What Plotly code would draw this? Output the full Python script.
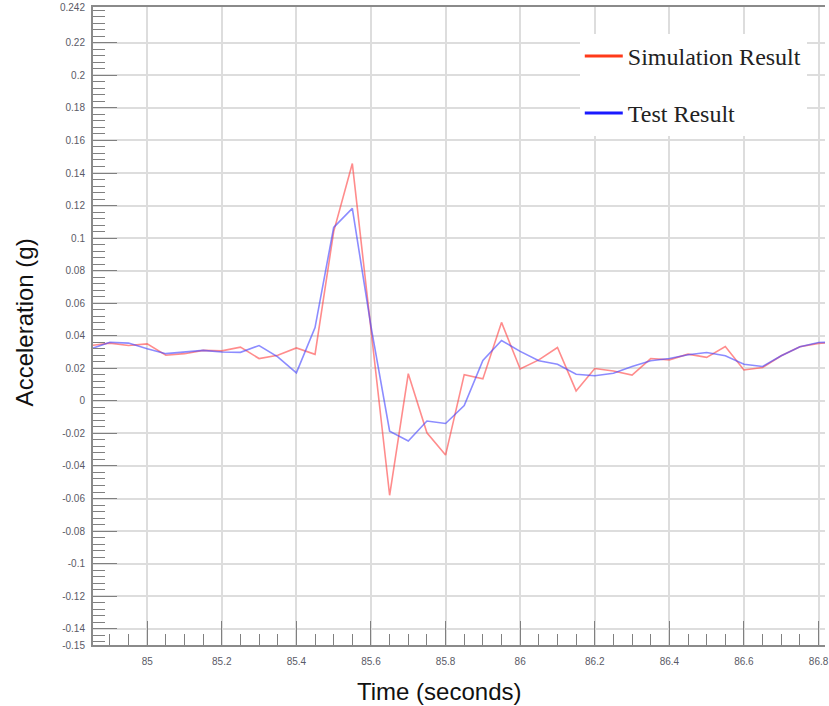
import plotly.graph_objects as go

time_s = [84.85, 84.90, 84.95, 85.00, 85.05, 85.10, 85.15, 85.20, 85.25, 85.30,
          85.35, 85.40, 85.45, 85.50, 85.55, 85.60, 85.65, 85.70, 85.75, 85.80,
          85.85, 85.90, 85.95, 86.00, 86.05, 86.10, 86.15, 86.20, 86.25, 86.30,
          86.35, 86.40, 86.45, 86.50, 86.55, 86.60, 86.65, 86.70, 86.75, 86.80, 86.85]

simulation = [0.034, 0.0355, 0.034, 0.035, 0.028, 0.029, 0.031, 0.0307, 0.033, 0.026,
              0.028, 0.0325, 0.0286, 0.104, 0.1458, 0.0457, -0.058, 0.0167, -0.0196, -0.0333,
              0.0161, 0.0135, 0.0482, 0.0196, 0.0252, 0.0328, 0.0061, 0.0199, 0.0184, 0.0158,
              0.026, 0.0252, 0.0287, 0.0267, 0.0334, 0.019, 0.0205, 0.0277, 0.0332, 0.0353, 0.036]

test = [0.032, 0.036, 0.0355, 0.032, 0.029, 0.030, 0.031, 0.030, 0.0298, 0.034,
        0.027, 0.0172, 0.045, 0.1066, 0.1183, 0.0457, -0.0186, -0.0247, -0.0124, -0.0139,
        -0.0029, 0.0249, 0.0371, 0.0304, 0.0246, 0.0225, 0.0164, 0.0154, 0.017, 0.0211,
        0.0246, 0.026, 0.0283, 0.0297, 0.0277, 0.0225, 0.0211, 0.0277, 0.0332, 0.0359, 0.036]

x_tickvals = [85.0, 85.2, 85.4, 85.6, 85.8, 86.0, 86.2, 86.4, 86.6, 86.8]
x_ticktext = ["85", "85.2", "85.4", "85.6", "85.8", "86", "86.2", "86.4", "86.6", "86.8"]

y_tickvals = [0.242, 0.22, 0.2, 0.18, 0.16, 0.14, 0.12, 0.1, 0.08, 0.06, 0.04, 0.02, 0,
              -0.02, -0.04, -0.06, -0.08, -0.1, -0.12, -0.14, -0.15]
y_ticktext = ["0.242", "0.22", "0.2", "0.18", "0.16", "0.14", "0.12", "0.1", "0.08", "0.06",
              "0.04", "0.02", "0", "-0.02", "-0.04", "-0.06", "-0.08", "-0.1", "-0.12",
              "-0.14", "-0.15"]

series_names = ["Simulation Result", "Test Result"]
x_title = "Time (seconds)"
y_title = "Acceleration (g)"

fig = go.Figure()
fig.add_trace(go.Scatter(x=time_s, y=simulation, mode="lines", showlegend=False,
                         line=dict(color="rgba(255,70,70,0.62)", width=1.6)))
fig.add_trace(go.Scatter(x=time_s, y=test, mode="lines", showlegend=False,
                         line=dict(color="rgba(70,70,255,0.62)", width=1.6)))
# legend entries
fig.add_trace(go.Scatter(x=[None], y=[None], mode="lines", name=series_names[0],
                         legendgroup="a", line=dict(color="#ff3a1a", width=3)))
fig.add_trace(go.Scatter(x=[None], y=[None], mode="lines", name=series_names[1],
                         legendgroup="b", line=dict(color="#1a1aff", width=3)))

tick_font = dict(family="Liberation Sans", size=10, color="#5a5a66")
title_font = dict(family="Liberation Sans", size=24, color="#111111")

fig.update_layout(
    width=829, height=706,
    margin=dict(l=93, r=0, t=7, b=61),
    paper_bgcolor="white", plot_bgcolor="white",
    showlegend=True,
    legend=dict(x=0.665, y=0.958, xanchor="left", yanchor="top",
                bgcolor="white", borderwidth=0, itemwidth=38,
                tracegroupgap=23,
                font=dict(family="Liberation Serif", size=24, color="#222222")),
    xaxis=dict(
        range=[84.8547, 86.8173],
        tickmode="array", tickvals=x_tickvals, ticktext=x_ticktext,
        ticks="inside", ticklen=24, tickwidth=1.2, tickcolor="#808080",
        showgrid=True, gridcolor="#dddddd", gridwidth=2,
        showline=True, linecolor="#8a8a8a", linewidth=2, mirror=True,
        zeroline=False, ticklabeloverflow="allow",
        tickfont=tick_font, ticklabelstandoff=6,
        minor=dict(ticks="inside", ticklen=11, tickwidth=1.1, tickcolor="#808080",
                   tickmode="linear", tick0=85.0, dtick=0.05, showgrid=False),
    ),
    yaxis=dict(
        range=[-0.15, 0.242],
        tickmode="array", tickvals=y_tickvals, ticktext=y_ticktext,
        ticks="inside", ticklen=24, tickwidth=1.2, tickcolor="#808080",
        showgrid=True, gridcolor="#dddddd", gridwidth=2,
        showline=True, linecolor="#8a8a8a", linewidth=2, mirror=False,
        zeroline=False, ticklabeloverflow="allow",
        tickfont=tick_font, ticklabelstandoff=4,
        minor=dict(ticks="inside", ticklen=12, tickwidth=1.1, tickcolor="#808080",
                   tickmode="linear", tick0=0, dtick=0.004, showgrid=False),
    ),
    annotations=[
        dict(text=x_title, xref="paper", yref="paper", x=(441 - 93) / 736,
             y=(645 - 691) / 638, xanchor="center", yanchor="middle",
             showarrow=False, font=title_font),
        dict(text=y_title, xref="paper", yref="paper", x=(24 - 93) / 736,
             y=(645 - 322) / 638, xanchor="center", yanchor="middle",
             textangle=-90, showarrow=False, font=title_font),
    ],
)

fig.write_html("out.html")
